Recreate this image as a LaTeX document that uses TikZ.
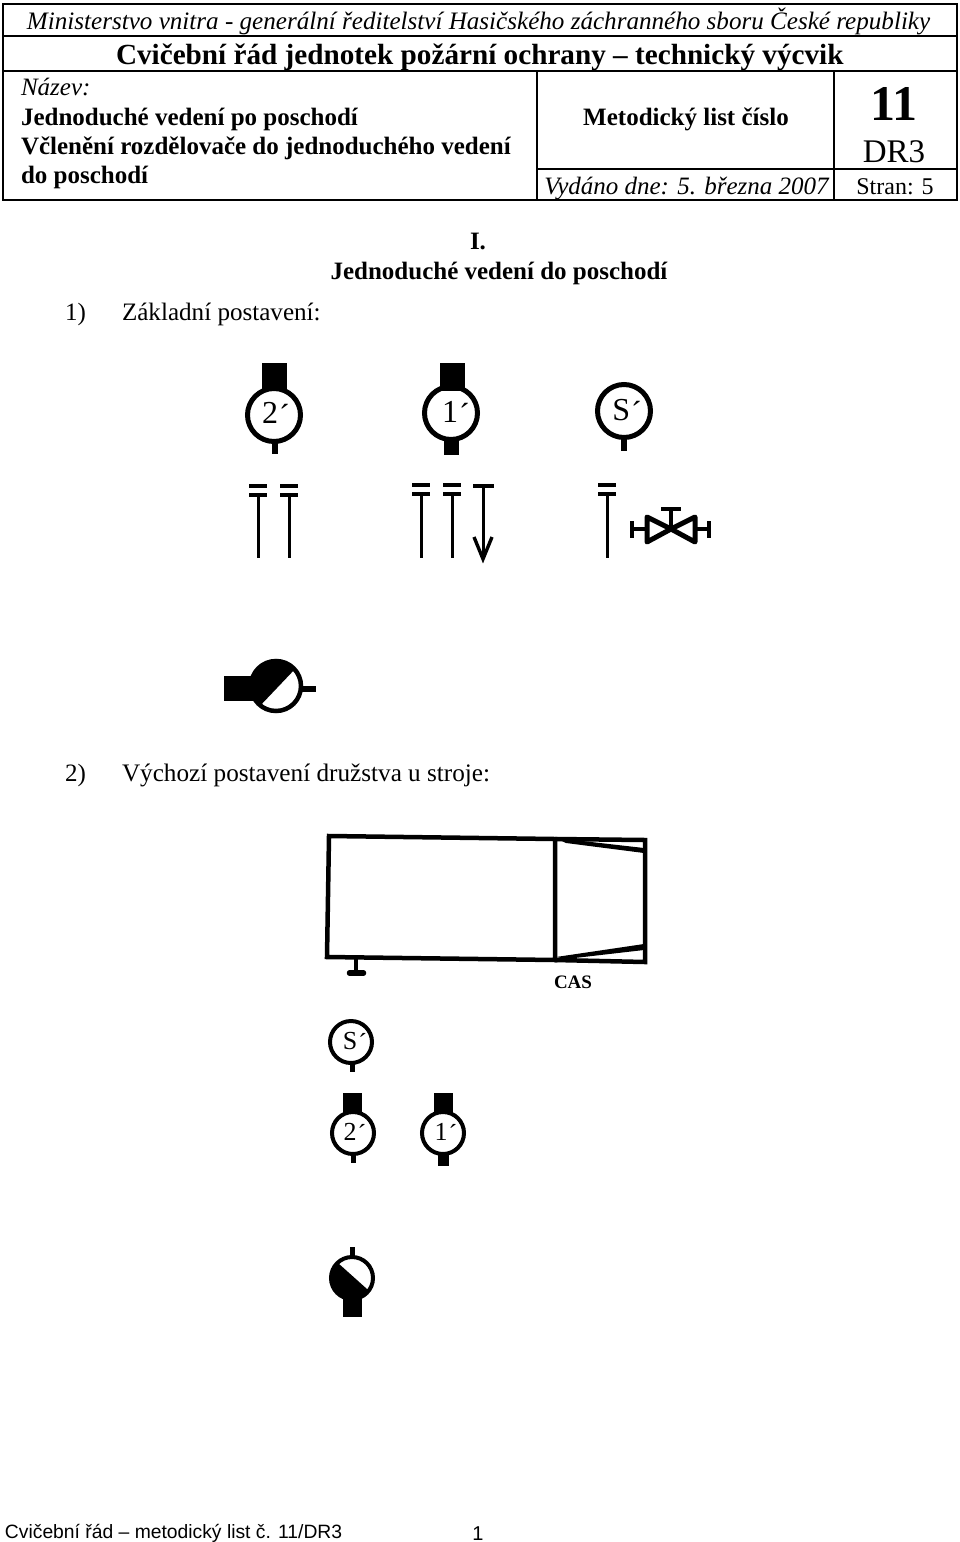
\documentclass[tikz,border=0pt]{standalone}
\usepackage{fontspec}
\setmainfont{Liberation Serif}
\newfontfamily\arialf{Liberation Sans}
\newcommand{\fs}[1]{\fontsize{#1}{#1}\selectfont}
\newcommand{\prm}[2]{\kern#1pt\raisebox{#2pt}{´}}
\tikzset{
  lbl/.style={anchor=base west,inner sep=0pt,outer sep=0pt},
  lblc/.style={anchor=base,inner sep=0pt,outer sep=0pt},
  frame/.style={draw=black,line width=2.2pt},
  sym/.style={anchor=center,inner sep=0pt,outer sep=0pt},
}
\newcommand{\hose}[3]{% x, bar1 y, end y
  \draw[line width=3.6pt] (#1-9,#2)--(#1+9,#2);
  \draw[line width=3.6pt] (#1-9,#2+9)--(#1+9,#2+9);
  \draw[line width=3pt] (#1,#2+9)--(#1,#3);}
\begin{document}
\begin{tikzpicture}[x=1pt,y=-1pt]
\useasboundingbox (0,0) rectangle (960,1542);
\fill[white] (0,0) rectangle (960,1542);
% header table
\draw[frame] (3,4) rectangle (957,200);
\draw[frame] (3,36)--(957,36);
\draw[frame] (3,71)--(957,71);
\draw[frame] (537,71)--(537,200);
\draw[frame] (834,71)--(834,200);
\draw[frame] (537,169)--(957,169);
\node[lbl] (h1) at (27,29) {\fs{25.1}\itshape Ministerstvo vnitra - generální ředitelství Hasičského záchranného sboru České republiky};
\node[lbl] (h2) at (116,64) {\fs{29.2}\bfseries Cvičební řád jednotek požární ochrany – technický výcvik};
\node[lbl] (nz) at (21,95) {\fs{25}\itshape Název:};
\node[lbl] (t1) at (21,125) {\fs{25}\bfseries Jednoduché vedení po poschodí};
\node[lbl] (t2) at (21,154) {\fs{25}\bfseries Včlenění rozdělovače do jednoduchého vedení};
\node[lbl] (t3) at (21,183) {\fs{25}\bfseries do poschodí};
\node[lblc] (ml) at (686,125) {\fs{25}\bfseries Metodický list číslo};
\node[lblc] (n11) at (894,120) {\fs{50}\bfseries 11};
\node[lblc] (dr) at (894,162) {\fs{33}DR3};
\node[lblc] (vy) at (686.5,194) {\fs{25}\itshape Vydáno dne: 5. března 2007};
\node[lblc] (st) at (895,194) {\fs{24}Stran: 5};
% headings
\node[lblc] (i) at (478,249) {\fs{25}\bfseries I.};
\node[lblc] (jv) at (499,279) {\fs{25}\bfseries Jednoduché vedení do poschodí};
\node[lbl] (a1) at (65,320) {\fs{25}1)};
\node[lbl] (a2) at (122,320) {\fs{25.1}Základní postavení:};
\node[lbl] (b1) at (65,781) {\fs{25}2)};
\node[lbl] (b2) at (122,781) {\fs{25.2}Výchozí postavení družstva u stroje:};
% top row figures
\fill (262,363) rectangle (287,391);
\draw[line width=5pt] (274,415) circle (26.5);
\fill (272,441) rectangle (278,454);
\node[sym] (f2) at (276,414) {\fs{32}2\prm{1}{-3}};
\fill (440,363) rectangle (465,391);
\draw[line width=5pt] (451,413) circle (26.5);
\fill (444,438) rectangle (459,455);
\node[sym] (f1) at (456,413) {\fs{32}1\prm{1}{-3}};
\draw[line width=5pt] (624,411) circle (26.5);
\fill (621,436) rectangle (627,451);
\node[sym] (fs) at (627,411) {\fs{32}S\prm{1}{-3}};
% hoses
\hose{258}{486}{558}
\hose{289}{486}{558}
\hose{421}{485}{558}
\hose{452}{485}{558}
\hose{607}{485}{558}
\draw[line width=3.6pt] (473,486)--(494,486);
\draw[line width=3pt] (483,486)--(483,557);
\draw[line width=3.4pt] (474,537)--(483,559)--(492,537);
% valve
\draw[line width=5pt,line join=round] (671,529)--(647,517)--(647,542)--cycle;
\draw[line width=5pt,line join=round] (671,529)--(695,517)--(695,542)--cycle;
\draw[line width=4.5pt] (671,529)--(671,509);
\draw[line width=4.5pt] (661,509)--(681,509);
\draw[line width=4.5pt] (632,529)--(647,529);
\draw[line width=4.5pt] (632,521)--(632,538);
\draw[line width=4.5pt] (695,529)--(709,529);
\draw[line width=4.5pt] (709,521)--(709,538);
% pump 1
\fill (224,676) rectangle (254,701);
\fill (300,686) rectangle (316,692);
\draw[line width=4.5pt] (276,686) circle (25);
\begin{scope}
\clip (276,686) circle (25.5);
\fill (296,668)--(258,708)--(230,690)--(240,650)--(290,650)--cycle;
\end{scope}
% truck
\draw[line width=4.5pt,line join=miter] (329,836)--(555,839)--(555,960)--(327,957)--cycle;
\draw[line width=4.5pt,line join=miter] (555,839)--(645,840)--(645,962)--(555,960);
\draw[line width=2pt] (555,958)--(555,838);
\fill (556,838)--(644,848)--(644,853)--(566,843)--cycle;
\fill (556,957)--(644,944)--(644,950)--(566,959)--cycle;
\draw[line width=4.5pt] (356,958)--(356,972);
\draw[line width=5.5pt,line cap=round] (349.5,973)--(363.5,973);
\node[lblc] (cas) at (573,988) {\fs{19}\bfseries CAS};
% lower figures
\draw[line width=4pt] (351,1042) circle (21);
\fill (349.5,1062) rectangle (354.5,1072);
\node[sym] (ls) at (355,1042) {\fs{26}S\prm{1}{-2.5}};
\fill (343,1093) rectangle (362,1113);
\draw[line width=4pt] (353,1133) circle (21);
\fill (350.5,1153) rectangle (355.5,1163);
\node[sym] (l2) at (355,1133) {\fs{26}2\prm{1}{-2.5}};
\fill (434,1093) rectangle (453,1113);
\draw[line width=4pt] (443,1133) circle (21);
\fill (438,1153) rectangle (449,1166);
\node[sym] (l1) at (446,1133) {\fs{26}1\prm{1}{-2.5}};
% pump 2
\fill (349.5,1247) rectangle (354.5,1258);
\fill (343,1295) rectangle (362,1317);
\draw[line width=4pt] (352,1278) circle (21);
\begin{scope}
\clip (352,1278) circle (21);
\fill (338,1263)--(367,1289)--(367,1305)--(320,1305)--(320,1263)--cycle;
\end{scope}
% footer
\node[lbl] (ft) at (5,1538) {\fs{19.3}\arialf Cvičební řád – metodický list č. 11/DR3};
\node[lblc] (pg) at (478,1540) {\fs{20}\arialf 1};
\end{tikzpicture}
\end{document}
